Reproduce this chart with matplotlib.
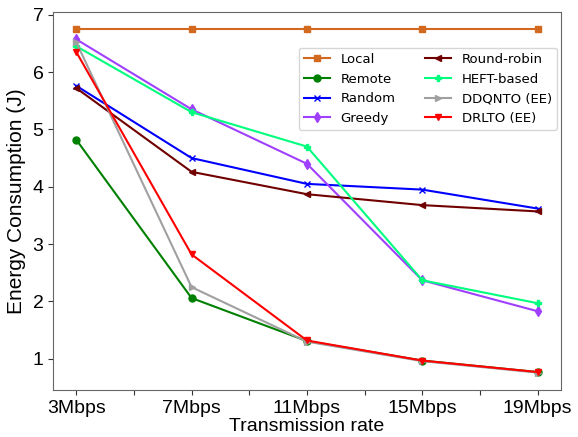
import numpy as np
import matplotlib
matplotlib.use("Agg")
import matplotlib.pyplot as plt

rates = [3, 7, 11, 15, 19]
rate_labels = ["3Mbps", "7Mbps", "11Mbps", "15Mbps", "19Mbps"]

local = [6.75, 6.75, 6.75, 6.75, 6.75]
remote = [4.82, 2.06, 1.31, 0.97, 0.77]
random_ = [5.76, 4.50, 4.05, 3.95, 3.62]
greedy = [6.57, 5.35, 4.40, 2.37, 1.83]
round_robin = [5.72, 4.26, 3.87, 3.68, 3.57]
heft = [6.45, 5.30, 4.70, 2.37, 1.97]
ddqnto = [6.52, 2.25, 1.30, 0.96, 0.76]
drlto = [6.35, 2.82, 1.32, 0.97, 0.77]

arial = 'Liberation Sans'

fig = plt.figure(figsize=(5.78, 4.37), dpi=100)
ax = fig.add_axes([0.092, 0.108, 0.878, 0.865])

ms = 5
ax.plot(rates, local, marker='s', ms=ms, color='#d2691e', label='Local')
ax.plot(rates, remote, marker='o', ms=ms, color='green', label='Remote')
ax.plot(rates, random_, marker='x', ms=ms, color='blue', label='Random')
ax.plot(rates, greedy, marker='d', ms=ms, color='#a040ff', label='Greedy')
ax.plot(rates, round_robin, marker='<', ms=ms, color='#700000', label='Round-robin')
ax.plot(rates, heft, marker='P', ms=ms, color='#00ff7f', label='HEFT-based')
ax.plot(rates, ddqnto, marker='>', ms=ms, color='#a0a0a0', label='DDQNTO (EE)')
ax.plot(rates, drlto, marker='v', ms=ms, color='red', label='DRLTO (EE)')

ax.set_xticks(np.arange(3, 20, 2))
ax.set_xticklabels([rate_labels[i // 2] if i % 2 == 0 else '' for i in range(9)])
ax.tick_params(labelsize=14, colors='black', color='#333333')
for lab in ax.get_xticklabels() + ax.get_yticklabels():
    lab.set_fontfamily(arial)
for s in ax.spines.values():
    s.set_color('#666666')
ax.set_xlabel('Transmission rate', fontsize=14, family=arial, labelpad=1)
ax.set_ylabel('Energy Consumption (J)', fontsize=15, family=arial, labelpad=5)
ax.legend(ncol=2, fontsize=9.5, loc='upper right', bbox_to_anchor=(0.993, 0.905),
          borderaxespad=0, columnspacing=2.2)

fig.savefig('out.png', dpi=100)
